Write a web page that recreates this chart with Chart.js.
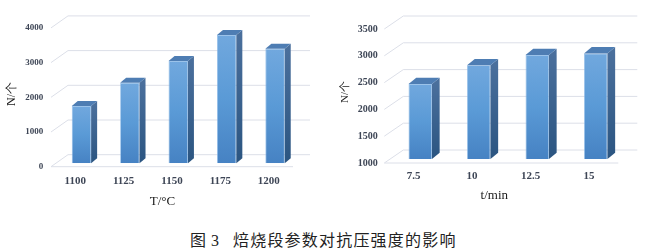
<!DOCTYPE html>
<html>
<head>
<meta charset="utf-8">
<script src="https://cdn.jsdelivr.net/npm/chart.js@4/dist/chart.umd.min.js"></script>
<style>
  html, body { margin:0; padding:0; background:#fff; }
  body { width:650px; height:252px; position:relative; overflow:hidden; }
  canvas { position:absolute; top:0; }
  #c1 { left:0; }
  #c2 { left:325px; }
  #cap { position:absolute; left:190px; top:229px; font-size:16px; line-height:20px;
         font-family:"Noto Sans CJK SC", sans-serif; color:#222; white-space:nowrap; }
  #cap .num { font-family:"Liberation Serif", serif; padding-left:5px; }
  #cap .txt { position:absolute; left:43px; top:0; letter-spacing:1.2px; }
</style>
</head>
<body>
<canvas id="c1" width="325" height="215"></canvas>
<canvas id="c2" width="325" height="215"></canvas>
<div id="cap"><span>图</span><span class="num">3</span><span class="txt">焙烧段参数对抗压强度的影响</span></div>
<script>
// ---- data ----
const tempCategories = ['1100', '1125', '1150', '1175', '1200'];
const tempValues = [1650, 2320, 2950, 3700, 3300];
const tempYMin = 0;
const tempYMax = 4000;
const tempYStep = 1000;
const tempXTitle = 'T/°C';

const timeCategories = ['7.5', '10', '12.5', '15'];
const timeValues = [2400, 2750, 2940, 2970];
const timeYMin = 1000;
const timeYMax = 3500;
const timeYStep = 500;
const timeXTitle = 't/min';

const yTitle = 'N/个';

// ---- 3D look plugin ----
const depth3d = {
  id: 'depth3d',
  beforeDatasetsDraw(chart, args, o) {
    const {ctx, chartArea: a, scales: {y}} = chart;
    ctx.save();
    ctx.strokeStyle = o.gridColor;
    ctx.lineWidth = 1;
    const fl = a.left + o.front[0], fr = a.right + o.front[0];
    const bl = a.left + o.back[0], br = a.right + o.back[0];
    y.ticks.forEach(t => {
      const py = y.getPixelForValue(t.value);
      const yf = py + o.front[1], yb = py + o.back[1];
      ctx.beginPath();
      ctx.moveTo(fl, yf); ctx.lineTo(bl, yb); ctx.lineTo(br, yb);
      ctx.stroke();
    });
    const y0 = y.getPixelForValue(y.min) + o.front[1];
    ctx.beginPath(); ctx.moveTo(fl, y0); ctx.lineTo(fr, y0); ctx.stroke();
    ctx.restore();
  },
  afterDatasetsDraw(chart, args, o) {
    const {ctx, chartArea: a} = chart;
    const meta = chart.getDatasetMeta(0);
    const [dx, dy] = o.bar;
    ctx.save();
    meta.data.forEach(el => {
      let {x, y, base, width} = el.getProps(['x', 'y', 'base', 'width'], true);
      if (![x, y, base, width].every(Number.isFinite)) return;
      base = Math.min(base, a.bottom);
      const l = x - width / 2, r = x + width / 2;
      // side face
      const g = ctx.createLinearGradient(0, y, 0, base);
      g.addColorStop(0, o.sideTop); g.addColorStop(1, o.sideBottom);
      ctx.fillStyle = g;
      ctx.beginPath();
      ctx.moveTo(r, y); ctx.lineTo(r + dx, y + dy); ctx.lineTo(r + dx, base + dy); ctx.lineTo(r, base);
      ctx.closePath(); ctx.fill();
      // top face
      ctx.fillStyle = o.topColor;
      ctx.beginPath();
      ctx.moveTo(l, y); ctx.lineTo(r, y); ctx.lineTo(r + dx, y + dy); ctx.lineTo(l + dx, y + dy);
      ctx.closePath(); ctx.fill();
    });
    ctx.restore();
  }
};

function frontFill(c) {
  const chart = c.chart;
  const ys = chart.scales && chart.scales.y;
  if (!ys || c.raw === undefined) return '#5b9bd5';
  const top = ys.getPixelForValue(c.raw);
  const bot = ys.getPixelForValue(ys.min);
  if (!Number.isFinite(top) || !Number.isFinite(bot) || top === bot) return '#5b9bd5';
  const g = chart.ctx.createLinearGradient(0, top, 0, bot);
  g.addColorStop(0, '#71a8de');
  g.addColorStop(0.5, '#5a9ad6');
  g.addColorStop(1, '#4682c3');
  return g;
}

function makeChart(id, cats, vals, ymin, ymax, ystep, xTitle, geo) {
  return new Chart(document.getElementById(id), {
    type: 'bar',
    data: {
      labels: cats,
      datasets: [{
        data: vals,
        backgroundColor: frontFill,
        borderColor: 'rgba(130,180,230,0.9)',
        borderWidth: 0.8,
        categoryPercentage: 1,
        barPercentage: 0.4
      }]
    },
    plugins: [depth3d],
    options: {
      responsive: false,
      animation: false,
      devicePixelRatio: 1,
      layout: { padding: { top: geo.padTop, left: geo.padLeft, right: 0, bottom: 0 } },
      plugins: {
        legend: { display: false },
        tooltip: { enabled: false },
        title: {
          display: true, position: 'bottom', text: xTitle, color: '#1a1a1a',
          font: { family: 'Liberation Serif', size: 13, weight: 'normal' },
          padding: { top: 0, bottom: geo.titleBottom }
        },
        depth3d: {
          gridColor: '#dcdfe8',
          front: geo.front, back: geo.back, bar: geo.bar,
          sideTop: '#4a6f9c', sideBottom: '#2b5581', topColor: '#4e7db3'
        }
      },
      scales: {
        x: {
          type: 'category',
          grid: { display: false, drawTicks: false },
          border: { display: false },
          ticks: {
            color: '#3e4656', padding: 11, labelOffset: geo.front[0],
            font: { family: 'Liberation Serif', size: 11, weight: 'bold' }
          },
          afterFit: s => { s.height = geo.xHeight; }
        },
        y: {
          type: 'linear', position: 'left', min: ymin, max: ymax,
          grid: { display: false, drawTicks: false },
          border: { display: false },
          ticks: {
            stepSize: ystep, color: '#3e4656', padding: geo.yPad, labelOffset: geo.front[1],
            font: { family: 'Liberation Serif', size: geo.yFont, weight: 'bold' },
            callback: v => String(v)
          },
          title: {
            display: true, text: yTitle, color: '#1a1a1a', padding: geo.yTitlePad,
            font: { family: 'Liberation Serif', size: geo.yTitleFont, weight: 'normal' }
          },
          afterFit: s => { s.width = geo.yWidth; }
        },
        yR: {
          type: 'linear', position: 'right', display: true,
          grid: { display: false, drawTicks: false },
          border: { display: false },
          ticks: { display: false },
          afterFit: s => { s.width = geo.rightWidth; }
        }
      }
    }
  });
}

makeChart('c1', tempCategories, tempValues, tempYMin, tempYMax, tempYStep, tempXTitle, {
  padTop: 24.5, padLeft: 0, titleBottom: 5.5, xHeight: 30.6,
  yWidth: 57.25, rightWidth: 25.75, yPad: 14, yFont: 9, yTitleFont: 12, yTitlePad: 5,
  front: [-6.25, 3.4], back: [10.75, -8.6], bar: [6, -5]
});

makeChart('c2', timeCategories, timeValues, timeYMin, timeYMax, timeYStep, timeXTitle, {
  padTop: 25, padLeft: 13.6, titleBottom: 11.2, xHeight: 29.2,
  yWidth: 52.4, rightWidth: 25, yPad: 13.3, yFont: 10, yTitleFont: 11, yTitlePad: 0,
  front: [-6.7, 4], back: [12.3, -9], bar: [7.7, -6.3]
});
</script>
</body>
</html>
